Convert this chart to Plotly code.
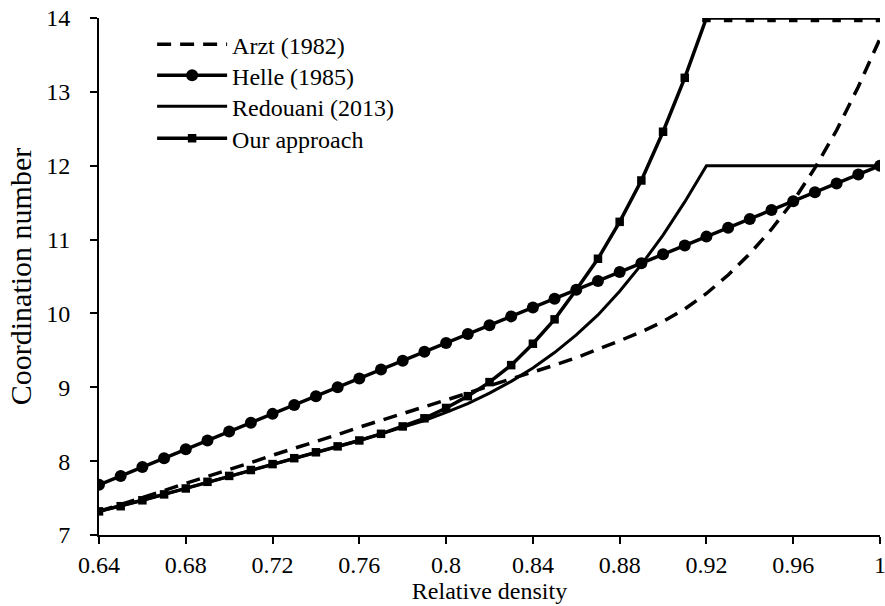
import plotly.graph_objects as go

density = [0.64, 0.65, 0.66, 0.67, 0.68, 0.69, 0.70, 0.71, 0.72, 0.73, 0.74, 0.75,
           0.76, 0.77, 0.78, 0.79, 0.80, 0.81, 0.82, 0.83, 0.84, 0.85, 0.86, 0.87,
           0.88, 0.89, 0.90, 0.91, 0.92, 0.93, 0.94, 0.95, 0.96, 0.97, 0.98, 0.99, 1.00]

arzt = [7.32, 7.41, 7.51, 7.60, 7.70, 7.79, 7.89, 7.98, 8.08, 8.17, 8.27, 8.36,
        8.46, 8.55, 8.64, 8.74, 8.83, 8.92, 9.02, 9.11, 9.20, 9.30, 9.40, 9.51,
        9.63, 9.75, 9.89, 10.06, 10.27, 10.52, 10.81, 11.14, 11.52, 11.97, 12.48, 13.07, 13.72]

helle = [7.68, 7.80, 7.92, 8.04, 8.16, 8.28, 8.40, 8.52, 8.64, 8.76, 8.88, 9.00,
         9.12, 9.24, 9.36, 9.48, 9.60, 9.72, 9.84, 9.96, 10.08, 10.20, 10.32, 10.44,
         10.56, 10.68, 10.80, 10.92, 11.04, 11.16, 11.28, 11.40, 11.52, 11.64, 11.76, 11.88, 12.00]

redouani = [7.32, 7.39, 7.47, 7.55, 7.63, 7.72, 7.80, 7.88, 7.96, 8.04, 8.12, 8.20,
            8.28, 8.37, 8.46, 8.55, 8.66, 8.78, 8.92, 9.08, 9.26, 9.47, 9.71, 9.98,
            10.30, 10.66, 11.06, 11.51, 12.00, 12.00, 12.00, 12.00, 12.00, 12.00, 12.00, 12.00, 12.00]

our_approach = [7.32, 7.39, 7.47, 7.55, 7.63, 7.72, 7.80, 7.88, 7.96, 8.04, 8.12, 8.20,
                8.28, 8.37, 8.47, 8.58, 8.72, 8.88, 9.07, 9.30, 9.59, 9.92, 10.32, 10.74,
                11.24, 11.80, 12.46, 13.19, 14.00, 14.00, 14.00, 14.00, 14.00, 14.00, 14.00, 14.00, 14.00]

x_ticks = [0.64, 0.68, 0.72, 0.76, 0.80, 0.84, 0.88, 0.92, 0.96, 1.00]
x_tick_labels = ["0.64", "0.68", "0.72", "0.76", "0.8", "0.84", "0.88", "0.92", "0.96", "1"]
y_ticks = [7, 8, 9, 10, 11, 12, 13, 14]

FONT = "Liberation Serif, Times New Roman, serif"

fig = go.Figure()
fig.add_trace(go.Scatter(x=density, y=arzt, mode="lines", name="Arzt (1982)", legend="legend",
                         line=dict(color="black", width=3.5, dash="14px,9px")))
fig.add_trace(go.Scatter(x=density, y=helle, mode="lines+markers", name="Helle (1985)", legend="legend2",
                         line=dict(color="black", width=3.5),
                         marker=dict(symbol="circle", size=12, color="black")))
fig.add_trace(go.Scatter(x=density, y=redouani, mode="lines", name="Redouani (2013)", legend="legend3",
                         line=dict(color="black", width=3)))
fig.add_trace(go.Scatter(x=density, y=our_approach, mode="lines+markers", name="Our approach", legend="legend4",
                         line=dict(color="black", width=3.5),
                         marker=dict(symbol="square", size=8.5, color="black")))

def leg(ypos):
    return dict(x=0.068, y=ypos, xanchor="left", yanchor="top",
                bgcolor="rgba(0,0,0,0)", font=dict(family=FONT, size=24),
                itemwidth=70)

fig.update_layout(
    width=885, height=606,
    margin=dict(l=99, r=5, t=18, b=71),
    paper_bgcolor="white", plot_bgcolor="white",
    font=dict(family=FONT, size=24, color="black"),
    showlegend=True,
    legend=leg(0.9919),
    legend2=leg(0.9319),
    legend3=leg(0.8720),
    legend4=leg(0.8101),
    xaxis=dict(range=[0.64, 1.0], tickvals=x_ticks, ticktext=x_tick_labels,
               showgrid=False, zeroline=False, showline=True, linecolor="black", linewidth=2,
               ticks="outside", ticklen=7, tickwidth=2, tickcolor="black",
               ticklabeloverflow="allow", automargin=False,
               title=dict(text="Relative density", font=dict(family=FONT, size=24), standoff=2),
               tickfont=dict(family=FONT, size=24)),
    yaxis=dict(range=[7, 14], tickvals=y_ticks,
               showgrid=False, zeroline=False, showline=True, linecolor="black", linewidth=2,
               ticks="outside", ticklen=7, tickwidth=2, tickcolor="black",
               ticklabelstandoff=15, automargin=False,
               title=dict(text="Coordination number", font=dict(family=FONT, size=30), standoff=6),
               tickfont=dict(family=FONT, size=24)),
)

fig.write_html("out.html")
